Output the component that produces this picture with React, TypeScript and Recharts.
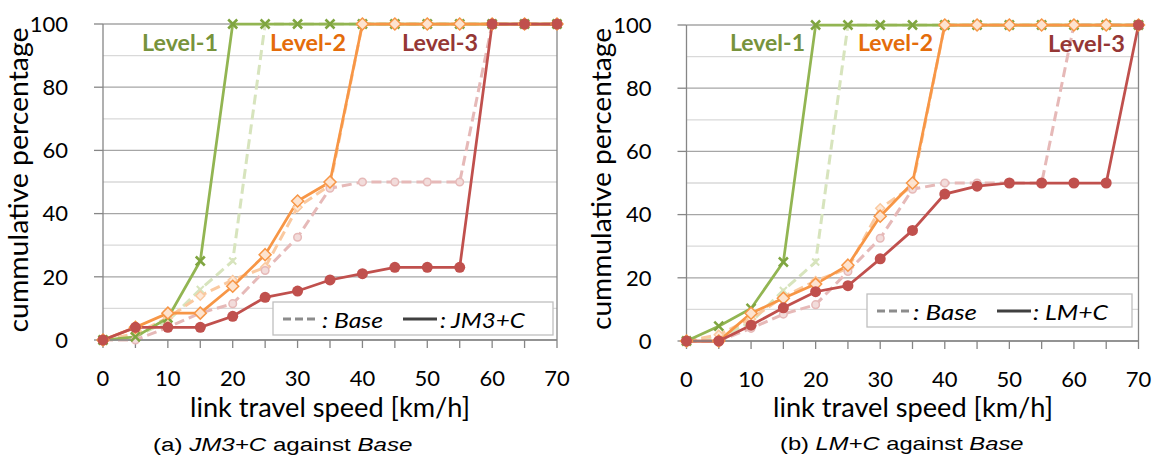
import React from 'react';
import { LineChart, Line, XAxis, YAxis, CartesianGrid, ReferenceLine } from 'recharts';

// ---- data ----
const speeds = [0, 5, 10, 15, 20, 25, 30, 35, 40, 45, 50, 55, 60, 65, 70];
const xTicks = [0, 5, 10, 15, 20, 25, 30, 35, 40, 45, 50, 55, 60, 65, 70];
const yTicks = [0, 20, 40, 60, 80, 100];
const yMinor = [10, 30, 50, 70, 90];

// Base (dashed, pale)
const baseL1 = [0, 1, 6, 16, 25, 100, 100, 100, 100, 100, 100, 100, 100, 100, 100];
const baseL2 = [0, 2, 7, 14, 19, 23, 42, 49, 100, 100, 100, 100, 100, 100, 100];
const baseL3 = [0, 0, 4, 8.5, 11.5, 22, 32.5, 48, 50, 50, 50, 50, 100, 100, 100];

// (a) JM3+C
const jm3L1 = [0, 1, 7, 25, 100, 100, 100, 100, 100, 100, 100, 100, 100, 100, 100];
const jm3L2 = [0, 4, 8.5, 8.5, 17, 27, 44, 50, 100, 100, 100, 100, 100, 100, 100];
const jm3L3 = [0, 4, 4, 4, 7.5, 13.5, 15.5, 19, 21, 23, 23, 23, 100, 100, 100];

// (b) LM+C
const lmL1 = [0, 4.7, 10.3, 25, 100, 100, 100, 100, 100, 100, 100, 100, 100, 100, 100];
const lmL2 = [0, 0, 8.8, 13.5, 18, 24, 39.5, 50, 100, 100, 100, 100, 100, 100, 100];
const lmL3 = [0, 0, 5, 10.5, 15.6, 17.5, 26, 35, 46.5, 49, 50, 50, 50, 50, 100];

const levelLabels = ['Level-1', 'Level-2', 'Level-3'];
const yTitle = 'cummulative percentage';
const xTitle = 'link travel speed [km/h]';

const buildRows = (l1: number[], l2: number[], l3: number[]) =>
  speeds.map((s, i) => ({
    speed: s,
    b1: baseL1[i],
    b2: baseL2[i],
    b3: baseL3[i],
    l1: l1[i],
    l2: l2[i],
    l3: l3[i],
  }));

const dataA = buildRows(jm3L1, jm3L2, jm3L3);
const dataB = buildRows(lmL1, lmL2, lmL3);

// ---- styles ----
const GREEN = '#92B552';
const GREEN_PALE = '#D7E4BD';
const ORANGE = '#F79646';
const ORANGE_PALE = '#FAC9A0';
const RED = '#C0504D';
const RED_PALE = '#E6B9B8';
const AXIS = '#868686';
const GRID_MAJOR = '#A6A6A6';
const GRID_MINOR = '#D9D9D9';
const FONT = 'Lato, "Open Sans", sans-serif';

const crossDot = (color: string, size: number, sw: number) => (props: any) => {
  const { cx, cy, index } = props;
  if (cx == null || cy == null) return <g key={`x${index}`} />;
  return (
    <g key={`x${index}`}>
      <line x1={cx - size} y1={cy - size} x2={cx + size} y2={cy + size} stroke={color} strokeWidth={sw} />
      <line x1={cx - size} y1={cy + size} x2={cx + size} y2={cy - size} stroke={color} strokeWidth={sw} />
    </g>
  );
};

const diamondDot = (stroke: string, fill: string, r: number, sw: number) => (props: any) => {
  const { cx, cy, index } = props;
  if (cx == null || cy == null) return <g key={`d${index}`} />;
  return (
    <path
      key={`d${index}`}
      d={`M${cx},${cy - r} L${cx + r},${cy} L${cx},${cy + r} L${cx - r},${cy} Z`}
      fill={fill}
      stroke={stroke}
      strokeWidth={sw}
    />
  );
};

const circleDot = (stroke: string, fill: string, r: number, sw: number) => (props: any) => {
  const { cx, cy, index } = props;
  if (cx == null || cy == null) return <g key={`c${index}`} />;
  return <circle key={`c${index}`} cx={cx} cy={cy} r={r} fill={fill} stroke={stroke} strokeWidth={sw} />;
};

const Panel = ({ data, width, margin, yWidth, xHeight }: any) => (
  <LineChart width={width} height={456} data={data} margin={margin}>
    <CartesianGrid vertical={false} horizontalValues={yMinor} stroke={GRID_MINOR} strokeWidth={1.3} />
    <CartesianGrid vertical={false} stroke={GRID_MAJOR} strokeWidth={1.3} />
    <XAxis
      dataKey="speed"
      type="number"
      domain={[0, 70]}
      ticks={xTicks}
      interval={0}
      height={xHeight}
      tickSize={8}
      tickMargin={22}
      axisLine={{ stroke: AXIS, strokeWidth: 1.3 }}
      tickLine={{ stroke: AXIS, strokeWidth: 1.3 }}
      tick={{ fontSize: 22, fill: '#000', fontFamily: FONT }}
      tickFormatter={(v: number) => (v % 10 === 0 ? String(v) : '')}
    />
    <YAxis
      type="number"
      domain={[0, 100]}
      ticks={yTicks}
      interval={0}
      width={yWidth}
      tickSize={9}
      tickMargin={26}
      axisLine={{ stroke: AXIS, strokeWidth: 1.3 }}
      tickLine={{ stroke: AXIS, strokeWidth: 1.3 }}
      tick={{ fontSize: 22, fill: '#000', fontFamily: FONT }}
    />
    <ReferenceLine x={70} stroke={AXIS} strokeWidth={1.3} />
    <Line type="linear" dataKey="b1" stroke={GREEN_PALE} strokeWidth={3} strokeDasharray="10 5"
      dot={crossDot(GREEN_PALE, 3.5, 2)} activeDot={false} isAnimationActive={false} />
    <Line type="linear" dataKey="b2" stroke={ORANGE_PALE} strokeWidth={3} strokeDasharray="10 5"
      dot={diamondDot(ORANGE_PALE, '#FDE9D9', 4.5, 1.5)} activeDot={false} isAnimationActive={false} />
    <Line type="linear" dataKey="b3" stroke={RED_PALE} strokeWidth={3} strokeDasharray="10 5"
      dot={circleDot(RED_PALE, '#F2DCDB', 3.8, 1.5)} activeDot={false} isAnimationActive={false} />
    <Line type="linear" dataKey="l1" stroke={GREEN} strokeWidth={2.75}
      dot={crossDot('#7FA540', 4.5, 2.5)} activeDot={false} isAnimationActive={false} />
    <Line type="linear" dataKey="l2" stroke={ORANGE} strokeWidth={2.75}
      dot={diamondDot(ORANGE, '#FDE3CF', 6, 1.5)} activeDot={false} isAnimationActive={false} />
    <Line type="linear" dataKey="l3" stroke={RED} strokeWidth={2.75}
      dot={circleDot(RED, RED, 5.5, 0)} activeDot={false} isAnimationActive={false} />
  </LineChart>
);

const LevelText = ({ x, y, len, color, children }: any) => (
  <text x={x} y={y} fill={color} fontFamily={FONT} fontWeight={700} fontSize={23}
    textLength={len} lengthAdjust="spacingAndGlyphs">{children}</text>
);

const LegendBox = ({ x, y, w, h, lineY, textY, d1, t1, s1, t2, label, len1, len2 }: any) => (
  <g>
    <rect x={x} y={y} width={w} height={h} fill="#fff" stroke="#BFBFBF" strokeWidth={1.3} />
    <line x1={d1} x2={d1 + 36} y1={lineY} y2={lineY} stroke="#8C8C8C" strokeWidth={3} strokeDasharray="8 4" />
    <text x={t1} y={textY} fontFamily={FONT} fontStyle="italic" fontSize={21} fill="#000"
      textLength={len1} lengthAdjust="spacingAndGlyphs">: Base</text>
    <line x1={s1} x2={s1 + 34} y1={lineY} y2={lineY} stroke="#404040" strokeWidth={3} />
    <text x={t2} y={textY} fontFamily={FONT} fontStyle="italic" fontSize={21} fill="#000"
      textLength={len2} lengthAdjust="spacingAndGlyphs">{label}</text>
  </g>
);

export default function App() {
  return (
    <div style={{ position: 'absolute', left: 0, top: 0, width: 1158, height: 456, background: '#fff', overflow: 'hidden' }}>
      <div style={{ position: 'absolute', left: 0, top: 0 }}>
        <Panel data={dataA} width={580} margin={{ top: 24, right: 23, bottom: 0, left: 0 }} yWidth={103} xHeight={116} />
      </div>
      <div style={{ position: 'absolute', left: 580, top: 0 }}>
        <Panel data={dataB} width={578} margin={{ top: 25, right: 19.5, bottom: 0, left: 0 }} yWidth={106.5} xHeight={115} />
      </div>
      <svg width={1158} height={456} style={{ position: 'absolute', left: 0, top: 0, pointerEvents: 'none' }}>
        {/* axis titles */}
        <text x={28} y={180} transform="rotate(-90 28 180)" textAnchor="middle" fontFamily={FONT} fontSize={27}
          textLength={305} lengthAdjust="spacingAndGlyphs" fill="#000">{yTitle}</text>
        <text x={611} y={179} transform="rotate(-90 611 179)" textAnchor="middle" fontFamily={FONT} fontSize={27}
          textLength={302} lengthAdjust="spacingAndGlyphs" fill="#000">{yTitle}</text>
        <text x={330} y={417} textAnchor="middle" fontFamily={FONT} fontSize={26}
          textLength={280} lengthAdjust="spacingAndGlyphs" fill="#000">{xTitle}</text>
        <text x={913} y={417} textAnchor="middle" fontFamily={FONT} fontSize={26}
          textLength={280} lengthAdjust="spacingAndGlyphs" fill="#000">{xTitle}</text>

        {/* level labels */}
        <LevelText x={142} y={51} len={76} color="#77933C">{levelLabels[0]}</LevelText>
        <LevelText x={270} y={51} len={76} color="#E46C0A">{levelLabels[1]}</LevelText>
        <LevelText x={402} y={51} len={76} color="#953735">{levelLabels[2]}</LevelText>
        <LevelText x={730} y={51} len={75} color="#77933C">{levelLabels[0]}</LevelText>
        <LevelText x={858} y={51} len={75} color="#E46C0A">{levelLabels[1]}</LevelText>
        <LevelText x={1048} y={52} len={77} color="#953735">{levelLabels[2]}</LevelText>

        {/* legends */}
        <LegendBox x={273} y={302} w={280} h={33} lineY={319} textY={328} d1={283} t1={322} s1={403} t2={440}
          label=": JM3+C" len1={61} len2={85} />
        <LegendBox x={867} y={294} w={265} h={33} lineY={311} textY={320} d1={877} t1={913} s1={997} t2={1033}
          label=": LM+C" len1={64} len2={75} />

        {/* captions */}
        <g transform="translate(153 451) scale(1.27 1)">
          <text x={0} y={0} fontFamily='"Liberation Sans", Arial, sans-serif' fontSize={19} fill="#000">
            (a) <tspan fontStyle="italic">JM3+C</tspan> against <tspan fontStyle="italic">Base</tspan>
          </text>
        </g>
        <g transform="translate(780 450) scale(1.25 1)">
          <text x={0} y={0} fontFamily='"Liberation Sans", Arial, sans-serif' fontSize={19} fill="#000">
            (b) <tspan fontStyle="italic">LM+C</tspan> against <tspan fontStyle="italic">Base</tspan>
          </text>
        </g>
      </svg>
    </div>
  );
}
